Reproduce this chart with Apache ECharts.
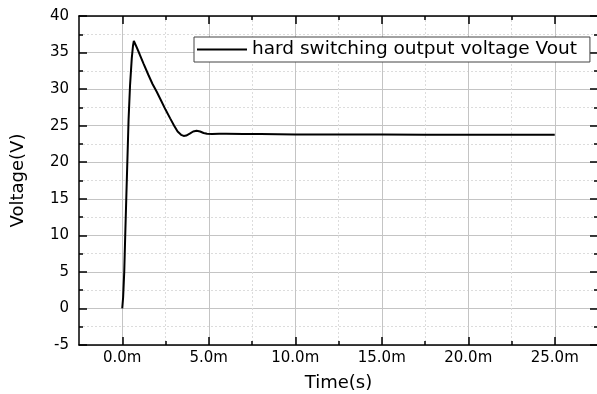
<!DOCTYPE html>
<html><head><meta charset="utf-8">
<script src="https://cdn.jsdelivr.net/npm/echarts@6/dist/echarts.min.js"></script>
<style>html,body{margin:0;padding:0;background:#fff}#c{width:597px;height:394px}</style>
</head><body><div id="c"></div>
<script>
// time in ms
var timeMs = [0, 0.05, 0.115, 0.17, 0.23, 0.3, 0.365, 0.45, 0.55, 0.62, 0.67, 0.8, 1.0, 1.23, 1.5, 1.75, 2.0, 2.25, 2.5, 2.77, 3.0, 3.2, 3.4, 3.55, 3.7, 3.9, 4.1, 4.3, 4.5, 4.7, 4.9, 5.2, 5.6, 6.0, 7.0, 8.0, 10.0, 12.5, 15.0, 17.5, 20.0, 22.5, 25.0];
var vout = [0, 1.5, 5.0, 9.8, 14.8, 20.5, 25.8, 30.5, 34.2, 35.9, 36.6, 35.9, 34.8, 33.5, 32.0, 30.7, 29.6, 28.4, 27.2, 26.0, 25.0, 24.2, 23.75, 23.6, 23.65, 23.9, 24.2, 24.3, 24.2, 24.0, 23.9, 23.85, 23.9, 23.9, 23.85, 23.85, 23.8, 23.8, 23.8, 23.75, 23.75, 23.75, 23.75];
var xTickValues = [0, 5, 10, 15, 20, 25];
var seriesName = 'hard switching output voltage Vout';
var xTitle = 'Time(s)';
var yTitle = 'Voltage(V)';

var FONT = 'DejaVu Sans';
var data = timeMs.map(function (t, i) { return [t, vout[i]]; });
var chart = echarts.init(document.getElementById('c'), null, {renderer: 'canvas'});
var axisLineStyle = {color: '#000', width: 1.5};
var tickStyle = {color: '#000', width: 1.5};
var majorGrid = {show: true, lineStyle: {color: '#c4c4c4', width: 1}};
var minorGrid = {show: true, lineStyle: {color: '#dcdcdc', width: 1, type: [2, 2]}};

chart.setOption({
  animation: false,
  backgroundColor: '#fff',
  grid: [
    {left: 79, top: 16, width: 519, height: 329, outerBoundsMode: 'none', containLabel: false},
    {left: 122.25, top: 16, width: 519, height: 329, outerBoundsMode: 'none', containLabel: false}
  ],
  legend: {
    data: [{name: seriesName, icon: 'rect'}], left: 194, top: 37, itemWidth: 50, itemHeight: 2,
    textStyle: {fontFamily: FONT, fontSize: 18.5, color: '#000'},
    borderColor: '#444', borderWidth: 1, padding: [3, 13, 3, 3], backgroundColor: '#fff', borderRadius: 0
  },
  xAxis: [
    {gridIndex: 0, type: 'value', position: 'bottom', min: -2.5, max: 27.5,
     axisLine: {show: true, onZero: false, lineStyle: axisLineStyle}, axisTick: {show: false}, axisLabel: {show: false}, splitLine: {show: false},
     name: xTitle, nameLocation: 'middle', nameGap: 29, nameTextStyle: {fontFamily: FONT, fontSize: 18, color: '#000'}},
    {gridIndex: 0, type: 'value', position: 'top', min: -2.5, max: 27.5,
     axisLine: {show: true, onZero: false, lineStyle: axisLineStyle}, axisTick: {show: false}, axisLabel: {show: false}, splitLine: {show: false}},
    {gridIndex: 1, type: 'value', position: 'bottom', min: 0, max: 30, interval: 5,
     axisLine: {show: false, onZero: false}, axisTick: {show: true, inside: true, length: 8, lineStyle: tickStyle},
     minorTick: {show: true, splitNumber: 2, length: 4, lineStyle: tickStyle},
     axisLabel: {show: true, margin: 6, fontFamily: FONT, fontSize: 15, color: '#000',
       formatter: function (v) { return xTickValues.indexOf(v) >= 0 ? v.toFixed(1) + 'm' : ''; }},
     splitLine: majorGrid, minorSplitLine: minorGrid},
    {gridIndex: 1, type: 'value', position: 'top', min: 0, max: 30, interval: 5,
     axisLine: {show: false, onZero: false}, axisTick: {show: true, inside: true, length: 8, lineStyle: tickStyle},
     minorTick: {show: true, splitNumber: 2, length: 4, lineStyle: tickStyle},
     axisLabel: {show: false}, splitLine: {show: false}}
  ],
  yAxis: [
    {gridIndex: 0, type: 'value', position: 'left', min: -5, max: 40, interval: 5,
     axisLine: {show: true, onZero: false, lineStyle: axisLineStyle}, axisTick: {show: true, inside: true, length: 8, lineStyle: tickStyle},
     minorTick: {show: true, splitNumber: 2, length: 4, lineStyle: tickStyle},
     axisLabel: {show: true, margin: 10, fontFamily: FONT, fontSize: 15, color: '#000'},
     splitLine: majorGrid, minorSplitLine: minorGrid,
     name: yTitle, nameLocation: 'middle', nameGap: 52, nameRotate: 90, nameTextStyle: {fontFamily: FONT, fontSize: 18, color: '#000'}},
    {gridIndex: 0, type: 'value', position: 'right', min: -5, max: 40, interval: 5,
     axisLine: {show: true, onZero: false, lineStyle: axisLineStyle}, axisTick: {show: true, inside: true, length: 8, lineStyle: tickStyle},
     minorTick: {show: true, splitNumber: 2, length: 4, lineStyle: tickStyle},
     axisLabel: {show: false}, splitLine: {show: false}},
    {gridIndex: 1, type: 'value', min: -5, max: 40, show: false, axisLine: {onZero: false}}
  ],
  series: [{
    name: seriesName, type: 'line', xAxisIndex: 2, yAxisIndex: 2, data: data,
    symbol: 'none', smooth: false, lineStyle: {color: '#000', width: 2}, itemStyle: {color: '#000'}, z: 5
  }]
});
</script></body></html>
